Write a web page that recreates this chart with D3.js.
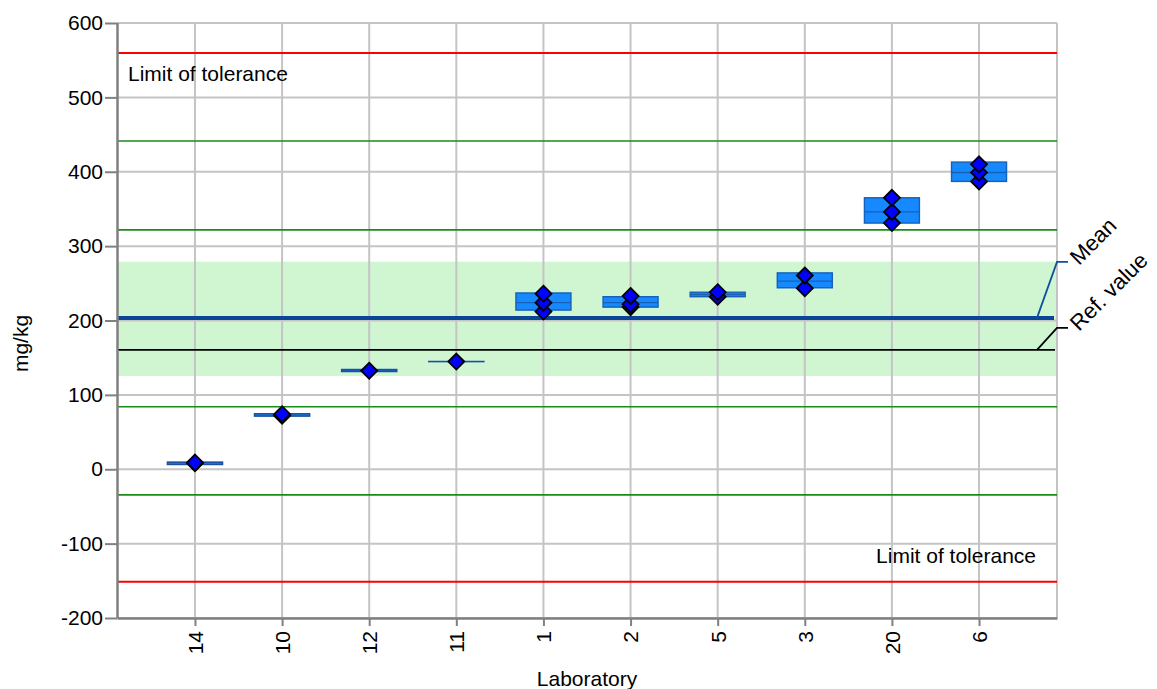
<!DOCTYPE html>
<html>
<head>
<meta charset="utf-8">
<script src="https://cdn.jsdelivr.net/npm/d3@7"></script>
<style>
  html, body { margin: 0; padding: 0; background: #fff; }
  svg { display: block; font-family: "Liberation Sans", Arial, sans-serif; }
</style>
</head>
<body>
<svg id="chart" width="1157" height="689"></svg>
<script>
// ---- data ----
const labs = ["14", "10", "12", "11", "1", "2", "5", "3", "20", "6"];
const boxLow    = [6.5, 71.5, 131.5, 144.8, 214, 218, 232, 244, 331, 387];
const boxMedian = [8,   73,   132.7, 144.8, 224, 224, 235, 253, 346, 399];
const boxHigh   = [9.5, 74.5, 134,   144.8, 237, 232, 238, 264, 365, 413];
const labPoints = [
  [8, 9],
  [72, 74],
  [132.5],
  [144.8],
  [212, 224, 236],
  [218, 222, 233],
  [232, 238],
  [243.5, 260.5],
  [331, 346, 365],
  [387, 399, 410]
];
const meanValue = 203.5;
const refValue = 160.5;
const bandLow = 125.5, bandHigh = 279;
const greenLimits = [441.4, 321.8, 84, -34.4];
const redLimits = [559.7, -151.3];
const yTicks = [-200, -100, 0, 100, 200, 300, 400, 500, 600];

// ---- layout ----
const svg = d3.select("#chart");
const L = 117, R = 1057, T = 23, B = 618;
const FS = 21;

const x = d3.scalePoint().domain(labs).range([L, R]).padding(0.895);
const y = d3.scaleLinear().domain([-200, 600]).range([B, T]);

// band
svg.append("rect")
  .attr("x", L).attr("width", R - L)
  .attr("y", y(bandHigh)).attr("height", y(bandLow) - y(bandHigh))
  .attr("fill", "#cff5d1");

// grid
const grid = svg.append("g");
grid.selectAll("line.h").data(yTicks).join("line")
  .attr("x1", L).attr("x2", R).attr("y1", d => y(d)).attr("y2", d => y(d))
  .attr("stroke", "#c4c4c4").attr("stroke-width", 2);
grid.selectAll("line.v").data(labs).join("line")
  .attr("x1", d => x(d)).attr("x2", d => x(d)).attr("y1", T).attr("y2", B)
  .attr("stroke", "#c4c4c4").attr("stroke-width", 2);
grid.append("line").attr("x1", R).attr("x2", R).attr("y1", T).attr("y2", B)
  .attr("stroke", "#c4c4c4").attr("stroke-width", 2);

// limit lines
svg.selectAll("line.green").data(greenLimits).join("line")
  .attr("x1", L).attr("x2", R).attr("y1", d => y(d)).attr("y2", d => y(d))
  .attr("stroke", "#1a8c1a").attr("stroke-width", 1.6);
svg.selectAll("line.red").data(redLimits).join("line")
  .attr("x1", L).attr("x2", R).attr("y1", d => y(d)).attr("y2", d => y(d))
  .attr("stroke", "#ff0000").attr("stroke-width", 2);

// ref & mean lines
svg.append("line").attr("x1", L).attr("x2", R - 2)
  .attr("y1", y(refValue)).attr("y2", y(refValue))
  .attr("stroke", "#000").attr("stroke-width", 1.8);
svg.append("line").attr("x1", L).attr("x2", R - 3)
  .attr("y1", y(meanValue)).attr("y2", y(meanValue))
  .attr("stroke", "#0b4595").attr("stroke-width", 4);

// leader lines + labels
svg.append("polyline")
  .attr("points", [[R - 20, y(meanValue)], [R, y(meanValue) - 56], [R + 11, y(meanValue) - 56]].join(" "))
  .attr("fill", "none").attr("stroke", "#1050a0").attr("stroke-width", 1.8);
svg.append("polyline")
  .attr("points", [[R - 20, y(refValue)], [R, y(refValue) - 22], [R + 11, y(refValue) - 22]].join(" "))
  .attr("fill", "none").attr("stroke", "#000").attr("stroke-width", 1.8);
svg.append("text")
  .attr("transform", `translate(${R + 22},${y(meanValue) - 52}) rotate(-45)`)
  .attr("font-size", 22).attr("fill", "#000").text("Mean");
svg.append("text")
  .attr("transform", `translate(${R + 22},${y(refValue) - 18}) rotate(-45)`)
  .attr("font-size", 22).attr("fill", "#000").text("Ref. value");

// limit labels
svg.append("text").attr("x", L + 11).attr("y", y(redLimits[0]) + 28)
  .attr("font-size", FS).text("Limit of tolerance");
svg.append("text").attr("x", R - 21).attr("y", y(redLimits[1]) - 19)
  .attr("text-anchor", "end").attr("font-size", FS).text("Limit of tolerance");

// boxes
const bw = 55;
const boxes = svg.append("g");
labs.forEach((lab, i) => {
  const cx = x(lab);
  const top = y(boxHigh[i]), bot = y(boxLow[i]);
  const thin = (bot - top) < 4;
  boxes.append("rect")
    .attr("x", cx - bw / 2).attr("width", bw)
    .attr("y", top).attr("height", Math.max(bot - top, 0.01))
    .attr("fill", "#1789ff")
    .attr("stroke", thin ? "#1a50a0" : "#1660b8").attr("stroke-width", thin ? 1.6 : 1.4);
  if (!thin) {
    boxes.append("line")
      .attr("x1", cx - bw / 2).attr("x2", cx + bw / 2)
      .attr("y1", y(boxMedian[i])).attr("y2", y(boxMedian[i]))
      .attr("stroke", "#1660b8").attr("stroke-width", 1.4);
  }
});

// points (diamonds)
const pts = [];
labs.forEach((lab, i) => labPoints[i].forEach(v => pts.push({ lab, v })));
const dsz = 8;
svg.append("g").selectAll("path").data(pts).join("path")
  .attr("d", d => {
    const cx = x(d.lab), cy = y(d.v);
    return `M${cx},${cy - dsz}L${cx + dsz},${cy}L${cx},${cy + dsz}L${cx - dsz},${cy}Z`;
  })
  .attr("fill", "#0000ff").attr("stroke", "#000").attr("stroke-width", 1.8)
  .attr("stroke-linejoin", "miter");

// axes
const yAxis = svg.append("g").attr("transform", `translate(${L},0)`)
  .call(d3.axisLeft(y).tickValues(yTicks).tickFormat(d => String(d)).tickSize(12).tickPadding(2));
const xAxis = svg.append("g").attr("transform", `translate(0,${B})`)
  .call(d3.axisBottom(x).tickSize(8).tickSizeOuter(0));
[yAxis, xAxis].forEach(g => {
  g.select(".domain").attr("stroke", "#808080").attr("stroke-width", 2.5);
  g.selectAll(".tick line").attr("stroke", "#808080").attr("stroke-width", 2);
  g.selectAll("text").attr("font-size", FS).attr("fill", "#000")
    .attr("font-family", "Liberation Sans, Arial, sans-serif");
});
yAxis.select(".domain").attr("d", `M0.5,${T}V${B}`);
xAxis.selectAll(".tick text")
  .attr("transform", "rotate(-90)")
  .attr("text-anchor", "end")
  .attr("x", -13).attr("y", 0).attr("dy", "0.35em");

// axis titles
svg.append("text").attr("x", (L + R) / 2).attr("y", 686)
  .attr("text-anchor", "middle").attr("font-size", FS).text("Laboratory");
svg.append("text").attr("transform", `translate(28,${(T + B) / 2 + 23}) rotate(-90)`)
  .attr("text-anchor", "middle").attr("font-size", FS).text("mg/kg");
</script>
</body>
</html>
